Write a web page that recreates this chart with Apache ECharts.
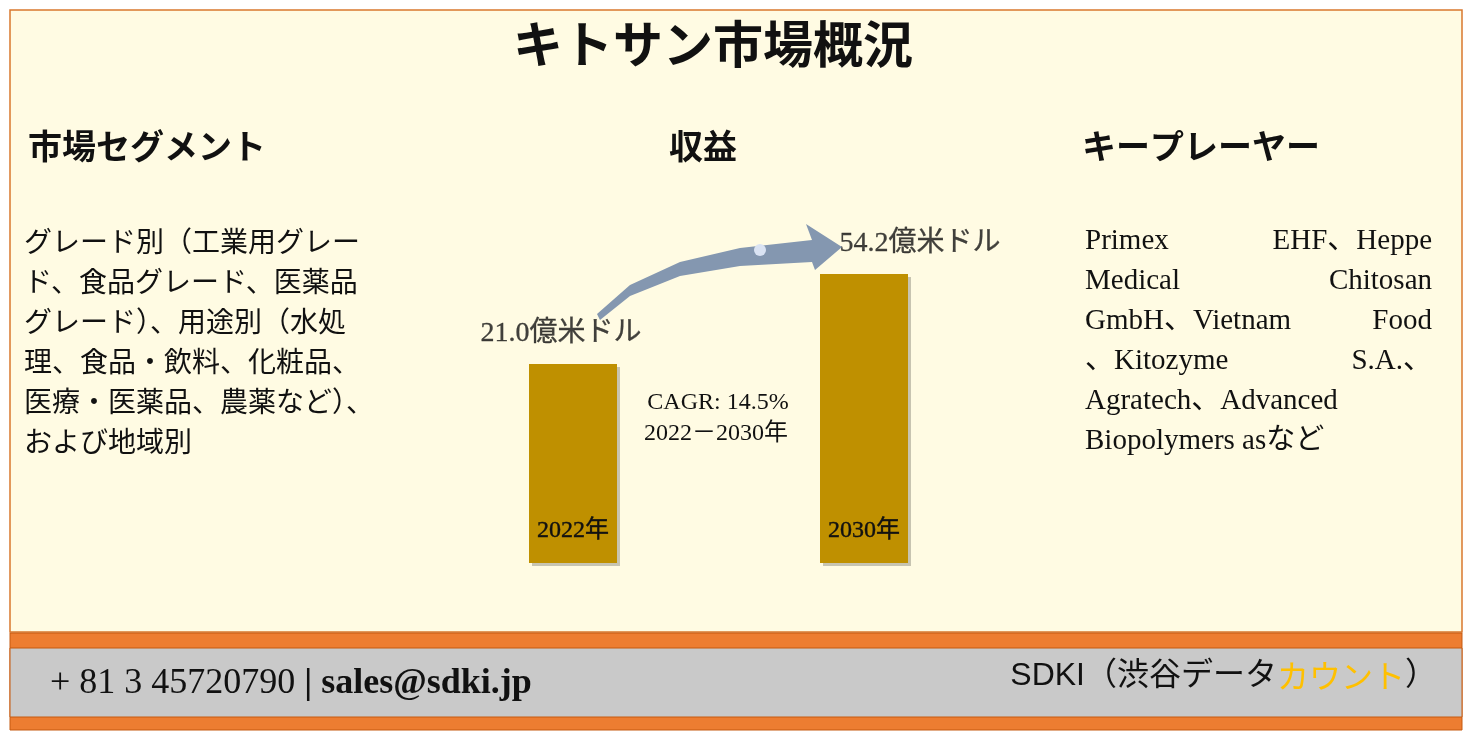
<!DOCTYPE html><html><head><meta charset="utf-8"><script src="https://cdn.jsdelivr.net/npm/echarts@6/dist/echarts.min.js"></script>
<style>html,body{margin:0;padding:0;background:#fff}#c{width:1467px;height:745px}</style></head><body><div id="c"></div><script>
const categories=['2022年','2030年'];
const revenue=[21.0,54.2];
const valueLabels=['21.0億米ドル','54.2億米ドル'];
const baseOffset=52.4;
const segLines=['グレード別（工業用グレー','ド、食品グレード、医薬品','グレード）、用途別（水処','理、食品・飲料、化粧品、','医療・医薬品、農薬など）、','および地域別'];
const F='"Liberation Serif","Noto Sans CJK JP",serif';
const chart=echarts.init(document.getElementById('c'));
function T(x,y,text,size,opts){return {type:'text',x:x,y:y,style:Object.assign({text:text,font:(opts&&opts.bold?'bold ':'')+size+'px '+F,fill:'#111',textAlign:'left',textVerticalAlign:'middle'},opts&&opts.style||{}),z:10};}
const els=[
 {type:'rect',shape:{x:10,y:10,width:1452,height:622},style:{fill:'#fffbe3',stroke:'#d9782e',lineWidth:1.5},z:0},
 {type:'rect',shape:{x:10,y:633,width:1452,height:97},style:{fill:'#ed7d31',stroke:'#c55a11',lineWidth:1},z:1},
 {type:'rect',shape:{x:10,y:648,width:1452,height:69},style:{fill:'#c9c9c9',stroke:'#c55a11',lineWidth:1},z:2},
 T(713,50,'キトサン市場概況',50,{bold:1,style:{textAlign:'center'}}),
 T(28,150,'市場セグメント',34,{bold:1}),
 T(703,150,'収益',34,{bold:1,style:{textAlign:'center'}}),
 T(1082,150,'キープレーヤー',34,{bold:1}),
 T(718,403,'CAGR: 14.5%',24,{style:{textAlign:'center'}}),
 T(716,434,'2022－2030年',24,{style:{textAlign:'center'}}),
 {type:'text',x:50,y:684,style:{rich:{a:{font:'36px "Liberation Serif",serif',fill:'#111'},b:{font:'bold 36px "Liberation Serif",serif',fill:'#111'}},text:'{a|+ 81 3 45720790 }{b|| sales@sdki.jp}',textVerticalAlign:'middle'},z:10},
 {type:'polygon',shape:{points:[[597,314],[630,285],[680,262],[740,248],[812,240],[806,224],[842,247],[815,270],[812,262],[740,266],[680,276],[630,296],[600,320]]},style:{fill:'#8497b0'},z:10},
 {type:'circle',shape:{cx:760,cy:250,r:6},style:{fill:'#dae3f3'},z:11},
 {type:'text',x:1437,y:676,style:{rich:{a:{fill:'#111',font:'32px "Liberation Sans Narrow","Liberation Sans","Noto Sans CJK JP",sans-serif'},b:{fill:'#ffc000',font:'32px "Noto Sans CJK JP",sans-serif'}},text:'{a|SDKI（渋谷データ}{b|カウント}{a|）}',textAlign:'right',textVerticalAlign:'middle'},z:10}
];
segLines.forEach((s,i)=>els.push(T(24,245+i*40,s,28)));
const rp=[['Primex','EHF、Heppe'],['Medical','Chitosan'],['GmbH、Vietnam','Food'],['、Kitozyme','S.A.、'],['Agratech、Advanced',''],['Biopolymers asなど','']];
rp.forEach((p,i)=>{els.push(T(1085,241+i*40,p[0],29));if(p[1])els.push(T(1432,241+i*40,p[1],29,{style:{textAlign:'right'}}));});
const barStyle={color:'#bf9000',shadowColor:'rgba(0,0,0,0.22)',shadowBlur:0,shadowOffsetX:3,shadowOffsetY:3};
chart.setOption({
 animation:false,
 graphic:{elements:els},
 grid:{left:427.5,width:582,top:200,bottom:182},
 xAxis:{type:'category',data:categories,show:false},
 yAxis:{type:'value',min:0,max:133.9,show:false},
 series:[
  {type:'bar',stack:'s',data:categories.map(()=>baseOffset),barWidth:88,z:6,itemStyle:barStyle,silent:true,
   label:{show:true,position:'insideBottom',distance:20,formatter:p=>p.name,fontSize:24,fontFamily:F,color:'#111',textBorderColor:'#111',textBorderWidth:0.4}},
  {type:'bar',stack:'s',data:revenue,barWidth:88,z:5,itemStyle:barStyle},
  {type:'scatter',symbolSize:0,z:7,
   data:revenue.map((v,i)=>({value:[i,v+baseOffset],label:{offset:i===0?[-12,0]:[56,0]}})),
   label:{show:true,position:'top',distance:16,formatter:p=>valueLabels[p.dataIndex],fontFamily:F,fontSize:28,color:'#111',textBorderColor:'#111',textBorderWidth:0.3}}]
});
</script></body></html>
